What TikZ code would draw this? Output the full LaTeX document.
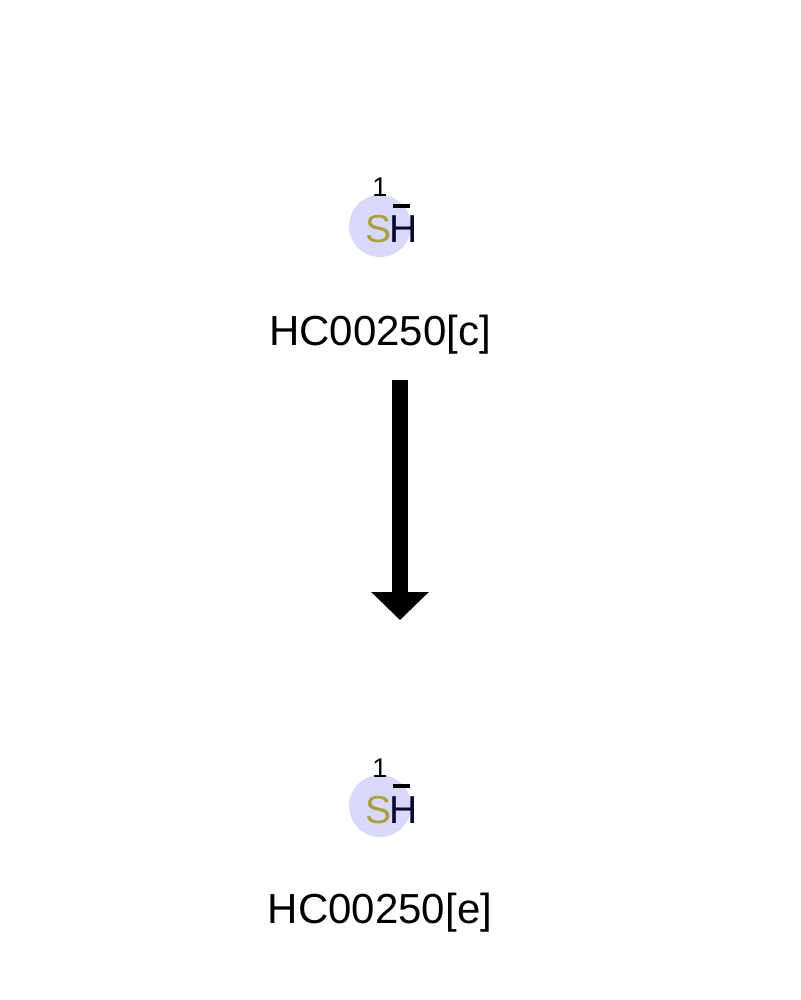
\documentclass[tikz,border=0pt]{standalone}
\usepackage{fontspec}
\setmainfont{Liberation Sans}
\usetikzlibrary{arrows.meta}
\definecolor{atombg}{HTML}{D8D8FA}
\definecolor{sulfur}{HTML}{A8A040}
\definecolor{hydro}{HTML}{0A0A30}
\tikzset{
  atomdisc/.style={circle, fill=atombg, minimum size=62pt, inner sep=0pt},
  atomtxt/.style={anchor=base, inner sep=0pt, font=\fontsize{39}{45}\selectfont},
  numtxt/.style={anchor=base, inner sep=0pt, font=\fontsize{27}{32}\selectfont},
  lbltxt/.style={anchor=base, inner sep=0pt, font=\fontsize{42}{48}\selectfont},
  chargebar/.style={line width=3.2pt},
  rxarrow/.style={line width=16pt, -{Triangle[length=28pt,width=56pt]}},
}
\begin{document}
\begin{tikzpicture}[x=1pt,y=-1pt]
\useasboundingbox (0,0) rectangle (800,1000);
% top molecule
\node[atomdisc] (c1) at (380,226) {};
\node[atomtxt, text=sulfur] (s1) at (379,243) {S};
\node[atomtxt, text=hydro] (h1) at (404,243) {H};
\node[numtxt] (n1) at (380,197) {1};
\draw[chargebar] (393,206) -- (410,206);
\node[lbltxt] (l1) at (380,345) {HC00250[c]};
% bottom molecule
\node[atomdisc] (c2) at (380,806) {};
\node[atomtxt, text=sulfur] (s2) at (379,823) {S};
\node[atomtxt, text=hydro] (h2) at (404,823) {H};
\node[numtxt] (n2) at (380,777) {1};
\draw[chargebar] (393,786) -- (410,786);
\node[lbltxt] (l2) at (380,923) {HC00250[e]};
% arrow
\coordinate (a1) at (400,380);
\coordinate (a2) at (400,620);
\draw[rxarrow] (a1) -- (a2);
\end{tikzpicture}
\end{document}
